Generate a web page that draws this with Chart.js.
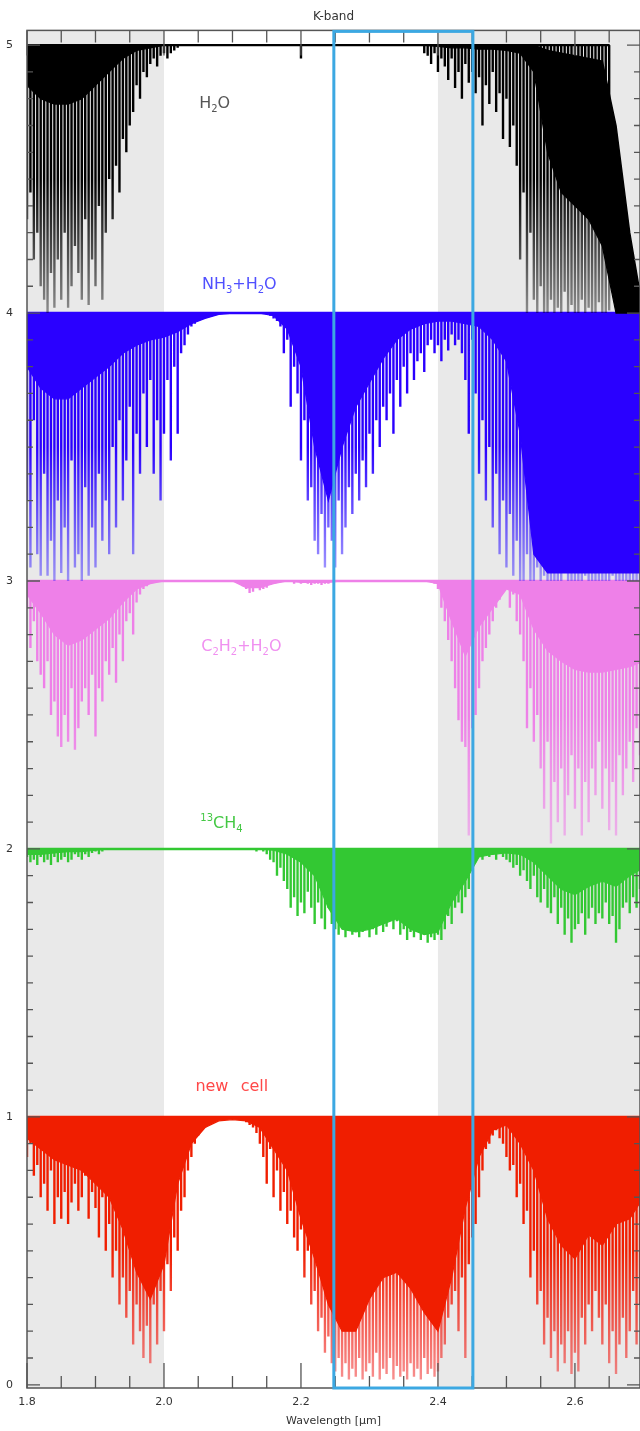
<!DOCTYPE html>
<html>
<head>
<meta charset="utf-8">
<script src="https://cdn.jsdelivr.net/npm/chart.js@4.4.1/dist/chart.umd.min.js"></script>
<style>
html, body { margin: 0; padding: 0; background: #fff; }
</style>
</head>
<body>
<canvas id="kbandChart" width="640" height="1431"></canvas>
<script>
// wavelength grids (micron)
const coreWl = [1.80,1.82,1.84,1.86,1.88,1.90,1.92,1.94,1.96,1.98,
                2.00,2.02,2.04,2.06,2.08,2.10,2.12,2.14,2.16,2.18,
                2.20,2.22,2.24,2.26,2.28,2.30,2.32,2.34,2.36,2.38,
                2.40,2.42,2.44,2.46,2.48,2.50,2.52,2.54,2.56,2.58,
                2.60,2.62,2.64,2.66,2.68,2.70];
const lineWl = [1.800,1.805,1.810,1.815,1.820,1.825,1.830,1.835,1.840,1.845,
                1.850,1.855,1.860,1.865,1.870,1.875,1.880,1.885,1.890,1.895,
                1.900,1.905,1.910,1.915,1.920,1.925,1.930,1.935,1.940,1.945,
                1.950,1.955,1.960,1.965,1.970,1.975,1.980,1.985,1.990,1.995,
                2.000,2.005,2.010,2.015,2.020,2.025,2.030,2.035,2.040,2.045,
                2.050,2.055,2.060,2.065,2.070,2.075,2.080,2.085,2.090,2.095,
                2.100,2.105,2.110,2.115,2.120,2.125,2.130,2.135,2.140,2.145,
                2.150,2.155,2.160,2.165,2.170,2.175,2.180,2.185,2.190,2.195,
                2.200,2.205,2.210,2.215,2.220,2.225,2.230,2.235,2.240,2.245,
                2.250,2.255,2.260,2.265,2.270,2.275,2.280,2.285,2.290,2.295,
                2.300,2.305,2.310,2.315,2.320,2.325,2.330,2.335,2.340,2.345,
                2.350,2.355,2.360,2.365,2.370,2.375,2.380,2.385,2.390,2.395,
                2.400,2.405,2.410,2.415,2.420,2.425,2.430,2.435,2.440,2.445,
                2.450,2.455,2.460,2.465,2.470,2.475,2.480,2.485,2.490,2.495,
                2.500,2.505,2.510,2.515,2.520,2.525,2.530,2.535,2.540,2.545,
                2.550,2.555,2.560,2.565,2.570,2.575,2.580,2.585,2.590,2.595,
                2.600,2.605,2.610,2.615,2.620,2.625,2.630,2.635,2.640,2.645,
                2.650,2.655,2.660,2.665,2.670,2.675,2.680,2.685,2.690,2.695,
                2.700];

// H2O (offset +4)
const h2oTop = [5,5,5,5,5,5,5,5,5,5,
                5,5,5,5,5,5,5,5,5,5,
                5,5,5,5,5,5,5,5,5,5,
                5,5,5,5,5,5,5,5,4.98,4.97,
                4.96,4.95,4.94,4.7,4.3,4.0];
const h2oCore = [4.85,4.8,4.78,4.78,4.8,4.85,4.9,4.95,4.98,4.99,
                 5,5,5,5,5,5,5,5,5,5,
                 5,5,5,5,5,5,5,5,5,5,
                 4.995,4.99,4.99,4.985,4.985,4.98,4.97,4.9,4.6,4.45,
                 4.4,4.35,4.25,4.0,4.0,4.0];
const h2oLines = [4.35,4.45,4.2,4.3,4.1, 4.05,4.0,4.15,4.02,4.2,
                  4.05,4.3,4.02,4.1,4.25, 4.15,4.05,4.35,4.03,4.2,
                  4.1,4.4,4.05,4.3,4.5, 4.35,4.55,4.45,4.65,4.6,
                  4.7,4.75,4.85,4.8,4.9, 4.88,4.93,4.95,4.92,4.96,
                  4.97,4.95,4.97,4.98,4.99, 5,5,5,5,5,
                  5,5,5,5,5, 5,5,5,5,5,
                  5,5,5,5,5, 5,5,5,5,5,
                  5,5,5,5,5, 5,5,5,5,5,
                  4.95,5,5,5,5, 5,5,5,5,5,
                  5,5,5,5,5, 5,5,5,5,5,
                  5,5,5,5,5, 5,5,5,5,5,
                  5,5,5,5,5, 5,4.97,4.96,4.93,4.97,
                  4.9,4.95,4.92,4.87,4.95, 4.84,4.9,4.8,4.93,4.86,
                  4.9,4.82,4.88,4.7,4.85, 4.78,4.9,4.75,4.82,4.65,
                  4.8,4.62,4.7,4.55,4.2, 4.45,4.0,4.3,4.05,4.0,
                  4.1,4.0,4.0,4.05,4.0, 4.02,4.0,4.08,4.0,4.03,
                  4.0,4.0,4.05,4.0,4.02, 4.0,4.0,4.04,4.0,4.0,
                  4.01,null,null,null,null, null,null,null,null,null,
                  null];

// NH3 + H2O (offset +3)
const nh3Core = [3.8,3.72,3.68,3.68,3.72,3.76,3.8,3.85,3.88,3.9,
                 3.91,3.93,3.96,3.98,3.995,4,4,4,3.99,3.94,
                 3.8,3.5,3.3,3.5,3.65,3.74,3.83,3.9,3.94,3.96,
                 3.97,3.97,3.96,3.95,3.9,3.82,3.55,3.1,3.03,3.03,
                 3.03,3.03,3.03,3.03,3.03,3.03];
const nh3Lines = [3.3,3.05,3.6,3.1,3.02, 3.4,3.02,3.15,3.0,3.3,
                  3.03,3.2,3.0,3.45,3.05, 3.1,3.0,3.35,3.02,3.2,
                  3.05,3.4,3.15,3.3,3.1, 3.5,3.2,3.6,3.3,3.45,
                  3.65,3.1,3.55,3.4,3.7, 3.5,3.75,3.4,3.6,3.3,
                  3.55,3.75,3.45,3.8,3.55, 3.85,3.88,3.92,3.95,3.96,
                  3.97,3.98,3.985,3.99,4, 4,4,4,4,4,
                  4,4,4,4,4, 4,4,4,4,4,
                  3.995,3.99,3.98,3.97,3.95, 3.85,3.9,3.65,3.8,3.7,
                  3.45,3.6,3.3,3.35,3.15, 3.1,3.25,3.05,3.2,3.15,
                  3.05,3.3,3.1,3.2,3.35, 3.25,3.4,3.3,3.45,3.35,
                  3.55,3.4,3.6,3.5,3.65, 3.6,3.7,3.55,3.75,3.65,
                  3.8,3.7,3.85,3.75,3.82, 3.85,3.78,3.88,3.9,3.85,
                  3.88,3.82,3.9,3.86,3.92, 3.88,3.9,3.85,3.75,3.55,
                  3.9,3.7,3.4,3.6,3.3, 3.5,3.2,3.4,3.1,3.3,
                  3.05,3.25,3.02,3.15,3.0, 3.0,3.1,3.0,3.0,3.05,
                  3.0,3.02,3.0,3.0,3.0, 3.0,3.0,3.03,3.0,3.0,
                  3.0,3.0,3.0,3.02,3.0, 3.0,3.0,3.0,3.0,3.0,
                  3.0,3.02,3.0,3.0,3.0, 3.0,3.0,3.0,3.0,3.0,
                  3.0];

// C2H2 + H2O (offset +2)
const c2h2Core = [2.95,2.88,2.8,2.76,2.78,2.82,2.86,2.92,2.97,2.99,
                  3,3,3,3,3,3,2.975,2.975,2.99,3,
                  2.995,2.995,2.995,3,3,3,3,3,3,3,
                  2.99,2.85,2.72,2.83,2.9,2.97,2.95,2.82,2.74,2.7,
                  2.67,2.66,2.66,2.67,2.68,2.7];
const c2h2Lines = [2.9,2.75,2.85,2.7,2.65, 2.6,2.7,2.5,2.55,2.42,
                   2.38,2.5,2.4,2.6,2.37, 2.45,2.55,2.6,2.5,2.65,
                   2.42,2.6,2.55,2.7,2.65, 2.75,2.62,2.8,2.7,2.85,
                   2.88,2.8,2.92,2.95,2.97, 2.98,2.99,3,3,3,
                   3,3,3,3,3, 3,3,3,3,3,
                   3,3,3,3,3, 3,3,3,3,3,
                   3,3,2.99,2.98,2.97, 2.955,2.96,2.975,2.965,2.97,
                   2.975,2.985,2.99,2.995,3, 3,3,2.995,2.99,2.995,
                   2.99,2.995,2.99,2.985,2.99, 2.99,2.985,2.99,2.99,2.995,
                   3,3,3,3,3, 3,3,3,3,3,
                   3,3,3,3,3, 3,3,3,3,3,
                   3,3,3,3,3, 3,3,3,3,2.99,
                   2.97,2.9,2.85,2.78,2.7, 2.6,2.48,2.4,2.38,2.05,
                   2.45,2.5,2.6,2.7,2.75, 2.8,2.85,2.9,2.93,2.96,
                   2.97,2.9,2.95,2.85,2.8, 2.7,2.45,2.6,2.4,2.5,
                   2.3,2.15,2.4,2.02,2.25, 2.1,2.3,2.05,2.2,2.35,
                   2.15,2.3,2.05,2.25,2.1, 2.3,2.2,2.4,2.15,2.3,
                   2.07,2.25,2.05,2.35,2.2, 2.3,2.4,2.25,2.45,2.35,
                   2.5];

// 13CH4 (offset +1)
const ch4Core = [1.98,1.98,1.985,1.99,1.99,1.995,2,2,2,2,
                 2,2,2,2,2,2,2,2,1.995,1.98,
                 1.95,1.9,1.78,1.7,1.69,1.7,1.72,1.74,1.7,1.68,
                 1.69,1.8,1.88,1.97,1.98,1.985,1.98,1.95,1.9,1.85,
                 1.83,1.86,1.88,1.86,1.9,1.93];
const ch4Lines = [1.97,1.95,1.96,1.94,1.97, 1.95,1.96,1.94,1.97,1.95,
                  1.96,1.97,1.95,1.96,1.98, 1.97,1.96,1.98,1.97,1.985,
                  1.99,1.98,1.99,1.995,2, 2,2,2,2,2,
                  2,2,2,2,2, 2,2,2,2,2,
                  2,2,2,2,2, 2,2,2,2,2,
                  2,2,2,2,2, 2,2,2,2,2,
                  2,2,2,2,2, 1.995,2,1.99,1.995,1.99,
                  1.98,1.96,1.95,1.9,1.93, 1.88,1.85,1.78,1.82,1.75,
                  1.8,1.76,1.84,1.78,1.72, 1.8,1.74,1.7,1.78,1.72,
                  1.7,1.68,1.72,1.67,1.7, 1.68,1.72,1.67,1.69,1.71,
                  1.67,1.7,1.68,1.72,1.69, 1.71,1.74,1.7,1.73,1.68,
                  1.7,1.66,1.69,1.67,1.7, 1.66,1.68,1.65,1.67,1.66,
                  1.68,1.66,1.7,1.75,1.72, 1.78,1.8,1.76,1.82,1.85,
                  1.92,1.95,1.97,1.96,1.98, 1.97,1.98,1.96,1.985,1.97,
                  1.96,1.95,1.93,1.94,1.9, 1.92,1.88,1.85,1.9,1.82,
                  1.8,1.85,1.78,1.76,1.82, 1.72,1.78,1.68,1.74,1.65,
                  1.7,1.72,1.76,1.68,1.74, 1.78,1.72,1.76,1.74,1.8,
                  1.72,1.75,1.65,1.7,1.78, 1.8,1.76,1.82,1.78,1.85,
                  1.88];

// new cell (no offset)
const cellCore = [0.92,0.88,0.84,0.82,0.8,0.75,0.7,0.58,0.42,0.32,
                  0.45,0.75,0.9,0.96,0.985,0.99,0.985,0.96,0.88,0.8,
                  0.62,0.47,0.3,0.2,0.2,0.32,0.4,0.42,0.36,0.27,
                  0.2,0.4,0.66,0.85,0.95,0.97,0.9,0.8,0.62,0.52,
                  0.47,0.56,0.52,0.6,0.62,0.7];
const cellLines = [0.85,0.9,0.78,0.82,0.7, 0.75,0.65,0.8,0.6,0.7,
                   0.62,0.72,0.6,0.68,0.75, 0.65,0.7,0.78,0.62,0.72,
                   0.66,0.55,0.7,0.5,0.6, 0.4,0.5,0.3,0.4,0.25,
                   0.35,0.15,0.3,0.2,0.1, 0.22,0.08,0.3,0.15,0.35,
                   0.2,0.45,0.35,0.55,0.5, 0.65,0.7,0.8,0.85,0.9,
                   0.93,0.95,0.96,0.97,0.98, 0.985,0.99,0.99,0.995,0.995,
                   0.995,0.99,0.99,0.985,0.98, 0.97,0.96,0.94,0.9,0.85,
                   0.75,0.88,0.7,0.8,0.65, 0.72,0.6,0.65,0.55,0.5,
                   0.58,0.4,0.5,0.3,0.35, 0.2,0.25,0.12,0.18,0.08,
                   0.05,0.1,0.03,0.08,0.02, 0.06,0.03,0.1,0.02,0.05,
                   0.08,0.03,0.12,0.02,0.06, 0.04,0.1,0.02,0.07,0.03,
                   0.05,0.02,0.08,0.03,0.06, 0.02,0.1,0.04,0.06,0.03,
                   0.05,0.1,0.15,0.25,0.3, 0.35,0.2,0.4,0.1,0.45,
                   0.55,0.6,0.7,0.8,0.88, 0.9,0.93,0.95,0.92,0.9,
                   0.85,0.8,0.82,0.7,0.75, 0.6,0.65,0.4,0.5,0.3,
                   0.35,0.15,0.25,0.1,0.2, 0.05,0.15,0.08,0.2,0.04,
                   0.12,0.05,0.25,0.15,0.3, 0.2,0.35,0.25,0.15,0.3,
                   0.08,0.2,0.04,0.15,0.25, 0.1,0.2,0.35,0.15,0.3,
                   0.4];

const xTicks = [1.8, 2.0, 2.2, 2.4, 2.6];
const yTicks = [0, 1, 2, 3, 4, 5];
const shadeRanges = [[1.8, 2.0], [2.4, 2.7]];
const boxRange = [2.248, 2.451];

const labelText = ['H_2O', 'NH_3+H_2O', 'C_2H_2+H_2O', '^{13}CH_4', 'new cell'];
const labelX = [2.074, 2.110, 2.113, 2.084, 2.099];
const labelY = [4.786, 4.114, 2.762, 2.101, 1.119];

const spectra = [
  { name: 'H2O', base: 5, core: h2oCore, top: h2oTop, lines: h2oLines },
  { name: 'NH3+H2O', base: 4, core: nh3Core, lines: nh3Lines },
  { name: 'C2H2+H2O', base: 3, core: c2h2Core, lines: c2h2Lines },
  { name: '13CH4', base: 2, core: ch4Core, lines: ch4Lines },
  { name: 'new cell', base: 1, core: cellCore, lines: cellLines }
];
const darkColors = ['#000000', '#2a00ff', '#ee80e8', '#33c833', '#f01e00'];
const lightColors = ['rgba(0,0,0,0.4)', 'rgba(60,40,255,0.45)', 'rgba(238,128,232,0.5)',
                     'rgba(51,200,51,0.45)', 'rgba(240,40,40,0.5)'];
const labelColors = ['#555555', '#5050ff', '#f090f0', '#44c844', '#ff4848'];

// each absorption line drawn as a drop from the continuum to its depth
function spikes(lines, base) {
  const pts = [];
  lines.forEach((v, i) => {
    const x = lineWl[i];
    if (v === null) { pts.push({ x: x, y: null }); return; }
    pts.push({ x: x, y: base }, { x: x, y: v }, { x: x, y: base });
  });
  return pts;
}
function curve(vals) {
  return vals.map((v, i) => ({ x: coreWl[i], y: v }));
}
// lines fade from the full colour at the continuum to a pale tint one unit down
function fadeStroke(k, base) {
  return c => {
    const chart = c.chart;
    if (!chart.chartArea) return darkColors[k];
    const yScale = chart.scales.y;
    const g = chart.ctx.createLinearGradient(0, yScale.getPixelForValue(base), 0, yScale.getPixelForValue(base - 1));
    g.addColorStop(0, darkColors[k]);
    g.addColorStop(0.5, darkColors[k]);
    g.addColorStop(1, lightColors[k]);
    return g;
  };
}

const datasets = [];
spectra.forEach((s, k) => {
  datasets.push({
    label: s.name + ' lines',
    data: spikes(s.lines, s.base),
    borderColor: fadeStroke(k, s.base),
    borderWidth: 2.4,
    borderJoinStyle: 'bevel',
    pointRadius: 0,
    fill: false,
    order: 2
  });
  if (s.top) {
    datasets.push({
      label: s.name + ' continuum',
      data: curve(s.top),
      borderColor: darkColors[k],
      borderWidth: 1.5,
      pointRadius: 0,
      fill: false,
      order: 1
    });
  }
  datasets.push({
    label: s.name,
    data: curve(s.core),
    borderColor: darkColors[k],
    backgroundColor: darkColors[k],
    borderWidth: 1.2,
    pointRadius: 0,
    fill: s.top ? '-1' : { value: s.base },
    order: 1
  });
});

function drawLabel(ctx, text, cx, cy, color) {
  const parts = [];
  let i = 0;
  while (i < text.length) {
    const c = text[i];
    if (c === '_') { parts.push({ t: text[i + 1], k: 'sub' }); i += 2; }
    else if (c === '^') {
      const end = text.indexOf('}', i);
      parts.push({ t: text.slice(i + 2, end), k: 'sup' });
      i = end + 1;
    } else { parts.push({ t: c, k: 'n' }); i++; }
  }
  const fontFor = k => (k === 'n' ? '16px "DejaVu Sans"' : '10px "DejaVu Sans"');
  let w = 0;
  parts.forEach(p => {
    ctx.font = fontFor(p.k);
    p.w = ctx.measureText(p.t).width * (p.t === ' ' ? 2.4 : 1);
    w += p.w;
  });
  let x = cx - w / 2;
  ctx.fillStyle = color;
  ctx.textAlign = 'left';
  ctx.textBaseline = 'alphabetic';
  parts.forEach(p => {
    ctx.font = fontFor(p.k);
    const dy = p.k === 'sub' ? 4 : (p.k === 'sup' ? -7 : 0);
    ctx.fillText(p.t, x, cy + 6 + dy);
    x += p.w;
  });
}

const decor = {
  id: 'kbandDecor',
  beforeDatasetsDraw(chart) {
    const { ctx, chartArea: a, scales: { x } } = chart;
    ctx.save();
    ctx.fillStyle = '#e9e9e9';
    shadeRanges.forEach(r => {
      const x0 = x.getPixelForValue(r[0]);
      const x1 = Math.min(x.getPixelForValue(r[1]), a.right);
      ctx.fillRect(x0, a.top, x1 - x0, a.bottom - a.top);
    });
    ctx.restore();
  },
  afterDatasetsDraw(chart) {
    const { ctx, chartArea: a, scales: { x, y } } = chart;
    ctx.save();
    // frame
    ctx.strokeStyle = '#555';
    ctx.lineWidth = 1.5;
    ctx.strokeRect(a.left, a.top, a.right - a.left, a.bottom - a.top);
    // x ticks, top and bottom, every 0.05
    ctx.lineWidth = 1.3;
    ctx.beginPath();
    for (let n = 0; n <= 18; n++) {
      const v = 1.8 + n * 0.05;
      const px = x.getPixelForValue(v);
      if (px > a.right) break;
      const len = n % 4 === 0 ? 25 : 12;
      ctx.moveTo(px, a.bottom); ctx.lineTo(px, a.bottom - len);
      ctx.moveTo(px, a.top); ctx.lineTo(px, a.top + len);
    }
    // y ticks, left and right, every 0.1
    for (let n = 0; n <= 50; n++) {
      const py = y.getPixelForValue(n / 10);
      const len = n % 10 === 0 ? 13 : 6;
      ctx.moveTo(a.left, py); ctx.lineTo(a.left + len, py);
      ctx.moveTo(a.right, py); ctx.lineTo(a.right - len, py);
    }
    ctx.stroke();
    // highlighted band
    ctx.strokeStyle = '#3ca8e2';
    ctx.lineWidth = 3;
    const b0 = x.getPixelForValue(boxRange[0]);
    const b1 = x.getPixelForValue(boxRange[1]);
    ctx.strokeRect(b0, a.top + 1, b1 - b0, a.bottom - a.top - 1);
    // molecule labels
    labelText.forEach((t, i) => {
      drawLabel(ctx, t, x.getPixelForValue(labelX[i]), y.getPixelForValue(labelY[i]), labelColors[i]);
    });
    ctx.restore();
  }
};

const ctx = document.getElementById('kbandChart').getContext('2d');
const chart = new Chart(ctx, {
  type: 'line',
  data: { datasets: datasets },
  options: {
    responsive: false,
    animation: false,
    devicePixelRatio: 1,
    events: [],
    layout: { padding: 0 },
    plugins: {
      legend: { display: false },
      tooltip: { enabled: false },
      title: {
        display: true,
        text: 'K-band',
        fullSize: false,
        color: '#333',
        font: { family: 'DejaVu Sans', size: 12, weight: 'normal' },
        padding: { top: 10, bottom: 6 }
      }
    },
    scales: {
      x: {
        type: 'linear',
        min: 1.8,
        max: 2.695,
        grid: { display: false },
        border: { display: false },
        afterBuildTicks: s => { s.ticks = xTicks.map(v => ({ value: v })); },
        afterFit: s => { s.height = 43; },
        ticks: {
          color: '#333',
          padding: 0,
          maxRotation: 0,
          font: { family: 'DejaVu Sans', size: 11 },
          callback: v => Number(v).toFixed(1)
        },
        title: {
          display: true,
          text: 'Wavelength [μm]',
          color: '#333',
          font: { family: 'DejaVu Sans', size: 11 },
          padding: { top: 0, bottom: 3 }
        }
      },
      y: {
        min: -0.012,
        max: 5.055,
        grid: { display: false },
        border: { display: false },
        afterBuildTicks: s => { s.ticks = yTicks.map(v => ({ value: v })); },
        afterFit: s => { s.width = 27; },
        ticks: {
          color: '#333',
          padding: 6,
          font: { family: 'DejaVu Sans', size: 11 },
          callback: v => String(v)
        }
      }
    }
  },
  plugins: [decor]
});
</script>
</body>
</html>
